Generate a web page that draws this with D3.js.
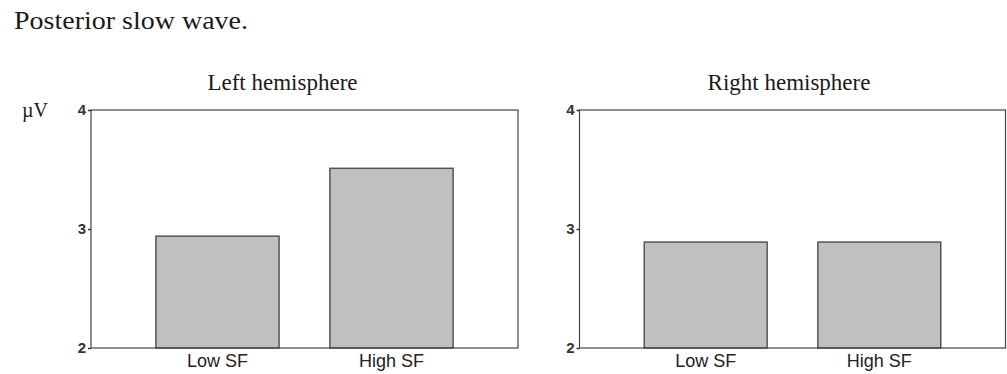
<!DOCTYPE html>
<html>
<head>
<meta charset="utf-8">
<script src="https://cdn.jsdelivr.net/npm/d3@7"></script>
<style>
  html, body { margin: 0; padding: 0; background: #fff; }
  svg { display: block; }
</style>
</head>
<body>
<svg id="chart" width="1007" height="374"></svg>
<script>
// ---- data ----
const chartTitle = "Posterior slow wave.";
const unitLabel = "\u00B5V";
const panelTitles = ["Left hemisphere", "Right hemisphere"];
const categories = ["Low SF", "High SF"];
const leftValues = [2.94, 3.51];
const rightValues = [2.89, 2.89];
const yTicks = [2, 3, 4];
const yDomain = [2, 4];

// ---- layout ----
const svg = d3.select("#chart");
const W = 1007, H = 374;
const plotTop = 110, plotBottom = 348;
const panels = [
  { title: panelTitles[0], values: leftValues, x0: 91, x1: 518, titleX: 282.5 },
  { title: panelTitles[1], values: rightValues, x0: 579.5, x1: 1005.5, titleX: 789 }
];

svg.append("rect").attr("width", W).attr("height", H).attr("fill", "#fff");

svg.append("text")
  .attr("x", 14).attr("y", 29)
  .attr("font-family", "'Liberation Serif','Times New Roman',serif")
  .attr("font-size", 25)
  .attr("textLength", 234)
  .attr("lengthAdjust", "spacingAndGlyphs")
  .attr("fill", "#1a1a1a")
  .text(chartTitle);

svg.append("text")
  .attr("x", 22).attr("y", 117)
  .attr("font-family", "'Liberation Serif','Times New Roman',serif")
  .attr("font-size", 20)
  .attr("fill", "#1a1a1a")
  .text(unitLabel);

const y = d3.scaleLinear().domain(yDomain).range([plotBottom, plotTop]);

panels.forEach(p => {
  const g = svg.append("g");
  const inset = (p.x1 - p.x0) * 0.0925;
  const x = d3.scaleBand()
    .domain(categories)
    .range([p.x0 + inset, p.x1 - inset])
    .paddingInner(0.292)
    .paddingOuter(0.146);

  // panel title
  g.append("text")
    .attr("x", p.titleX).attr("y", 90)
    .attr("text-anchor", "middle")
    .attr("font-family", "'Liberation Serif','Times New Roman',serif")
    .attr("font-size", 23)
    .attr("fill", "#1a1a1a")
    .text(p.title);

  // bars
  g.selectAll("rect.bar")
    .data(categories.map((c, i) => ({ c, v: p.values[i] })))
    .join("rect")
    .attr("class", "bar")
    .attr("x", d => x(d.c))
    .attr("width", x.bandwidth())
    .attr("y", d => y(d.v))
    .attr("height", d => y(yDomain[0]) - y(d.v))
    .attr("fill", "#c0c0c0")
    .attr("stroke", "#555")
    .attr("stroke-width", 1.5);

  // frame
  g.append("rect")
    .attr("x", p.x0).attr("y", plotTop)
    .attr("width", p.x1 - p.x0).attr("height", plotBottom - plotTop)
    .attr("fill", "none")
    .attr("stroke", "#444")
    .attr("stroke-width", 1.2);

  // y axis
  const ya = g.append("g")
    .attr("transform", `translate(${p.x0},0)`)
    .call(d3.axisLeft(y).tickValues(yTicks).tickFormat(d3.format("d")).tickSize(3).tickPadding(2));
  ya.select(".domain").remove();
  ya.selectAll(".tick line").attr("stroke", "#333").attr("stroke-width", 1.5);
  ya.selectAll(".tick text")
    .attr("font-family", "'Liberation Sans',Arial,sans-serif")
    .attr("font-size", 15)
    .attr("font-weight", "bold")
    .attr("fill", "#333");

  // x axis
  const xa = g.append("g")
    .attr("transform", `translate(0,${plotBottom})`)
    .call(d3.axisBottom(x).tickSize(0).tickPadding(6));
  xa.select(".domain").remove();
  xa.selectAll(".tick text")
    .attr("font-family", "'Liberation Sans',Arial,sans-serif")
    .attr("font-size", 18)
    .attr("fill", "#222")
    .attr("dy", "0.71em");
});
</script>
</body>
</html>
